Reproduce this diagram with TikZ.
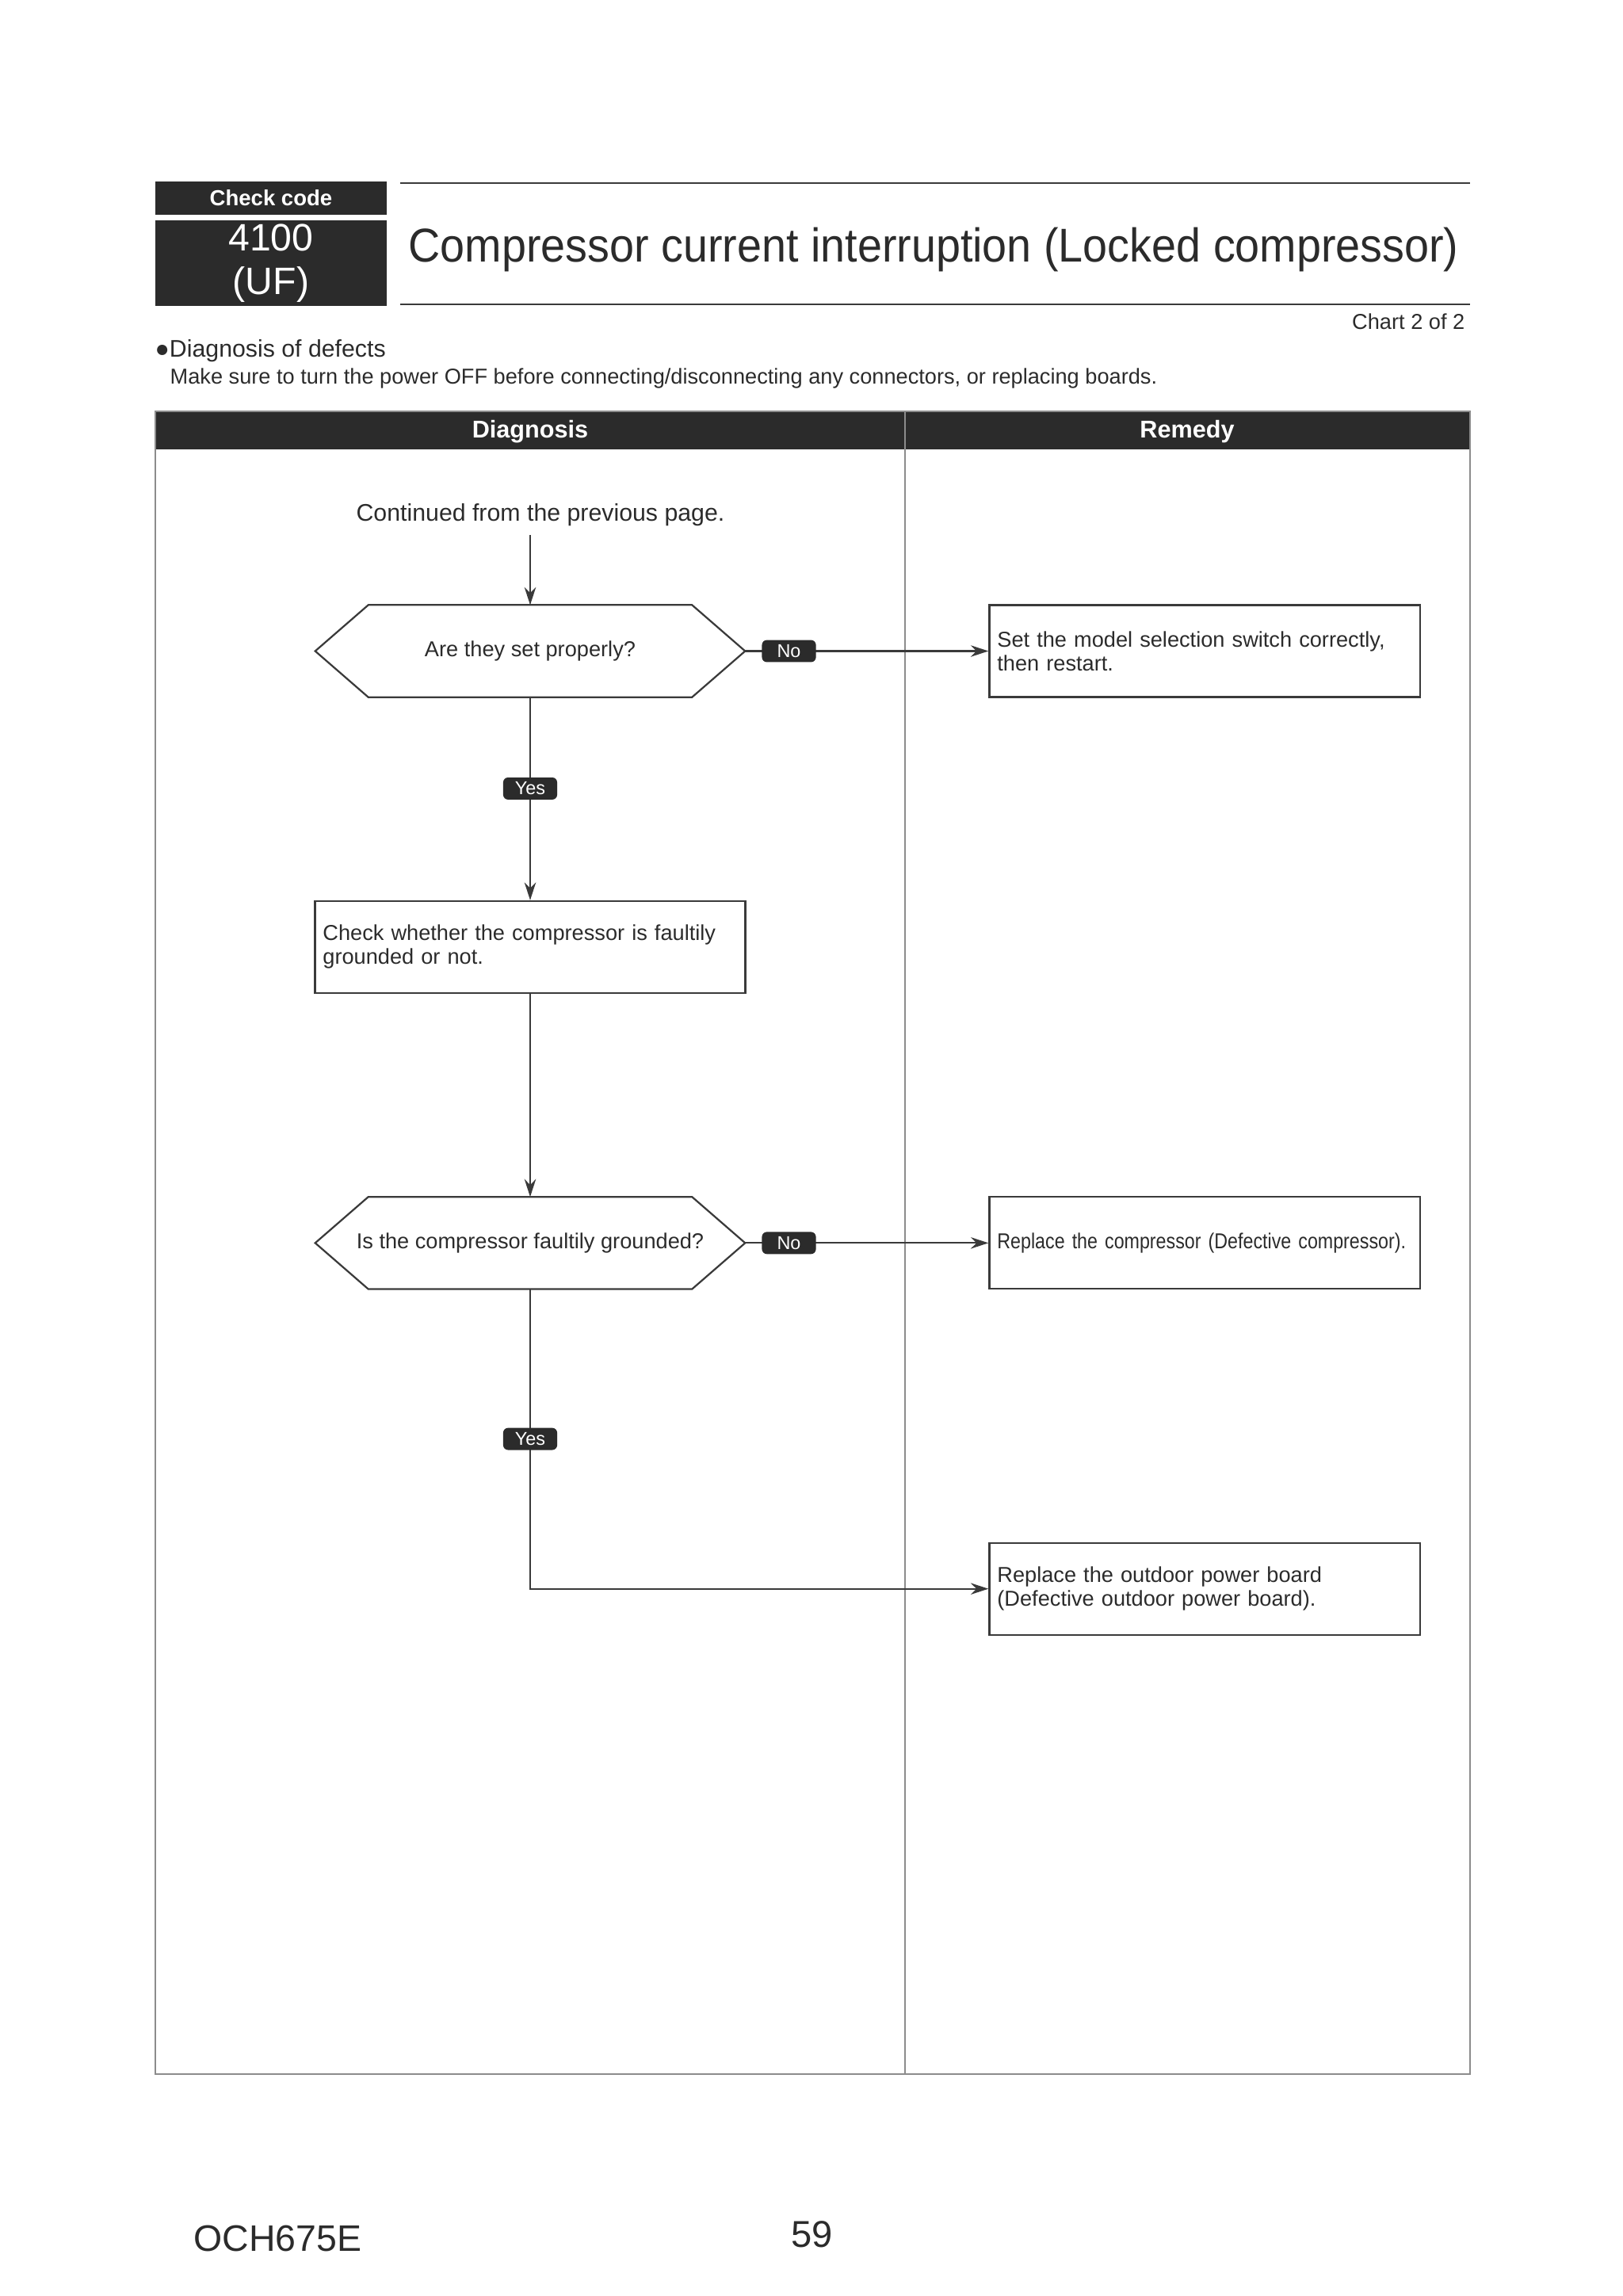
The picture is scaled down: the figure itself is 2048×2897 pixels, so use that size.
\documentclass[tikz,border=0pt]{standalone}
\usepackage{fontspec}
\setmainfont{Liberation Sans}
\newfontfamily\titlefont[FakeStretch=0.93]{Liberation Sans}
\newfontfamily\narrowfont[FakeStretch=0.855]{Liberation Sans}
\usetikzlibrary{arrows.meta,positioning,calc}
\definecolor{ink}{HTML}{2B2B2B}
\definecolor{linec}{HTML}{3A3A3A}
\definecolor{rulec}{HTML}{8C8C8C}

\begin{document}
\begin{tikzpicture}[x=0.2905pt, y=-0.2905pt,
    node distance=74.4pt and 89.2pt,
    txt/.style={font=\fontsize{7.9}{8.7}\selectfont, text=ink},
    decision/.style={txt, minimum width=157.2pt, minimum height=33.4pt, inner sep=0pt, align=center},
    remedy/.style={txt, draw=linec, line width=0.65pt, text width=152pt, inner xsep=2.9pt, minimum height=33.7pt, align=left},
    tag/.style={fill=ink, text=white, rounded corners=1.8pt, minimum width=19.8pt, minimum height=8.1pt, inner sep=0pt, font=\fontsize{6.8}{7}\selectfont},
    arrow/.style={->, >={Stealth[length=6.5pt,width=4.2pt]}, line width=0.65pt, draw=linec},
    band/.style={fill=ink, text=white, inner sep=0pt}
]
\useasboundingbox (0,0) rectangle (2048,2897);

% Check code block
\node[band, minimum width=84.8pt, minimum height=12.2pt, font=\bfseries\fontsize{8}{9}\selectfont] (chk) at (342,250) {Check code};
\node[band, minimum width=84.8pt, minimum height=31.4pt, align=center, font=\fontsize{14}{16}\selectfont] (code) at (342,332) {4100\\(UF)};

% Title
\draw[linec, line width=0.7pt] (505,231) -- (1855,231);
\draw[linec, line width=0.7pt] (505,384) -- (1855,384);
\node[anchor=base west, inner sep=0pt, text=ink, font=\titlefont\fontsize{17.4}{20}\selectfont] (title) at (515,330) {Compressor current interruption (Locked compressor)};
\node[txt, anchor=base east, inner sep=0pt] (chart) at (1849,415) {Chart 2 of 2};
\node[anchor=base west, inner sep=0pt, text=ink, font=\fontsize{8.8}{10}\selectfont] (diag) at (195,450) {●Diagnosis of defects};
\node[txt, anchor=base west, inner sep=0pt] (note) at (214,484) {Make sure to turn the power OFF before connecting/disconnecting any connectors, or replacing boards.};

% Table frame
\fill[ink] (196,519) rectangle (1855,567);
\draw[rulec, line width=0.7pt] (196,519) rectangle (1855,2617);
\draw[rulec, line width=0.7pt] (1142,519) -- (1142,2617);
\node[text=white, font=\bfseries\fontsize{8.9}{10}\selectfont] (hdiag) at (669,545) {Diagnosis};
\node[text=white, font=\bfseries\fontsize{8.9}{10}\selectfont] (hrem) at (1498,545) {Remedy};

% Flow
\node[txt, font=\fontsize{8.8}{10}\selectfont, anchor=base] (start) at (682,657) {Continued from the previous page.};
\node[decision] (q1) at (669,821.5) {Are they set properly?};
\node[remedy, right=of q1] (r1) {Set the model selection switch correctly,\\then restart.};
\node[remedy, below=of q1] (b2) {Check whether the compressor is faultily\\grounded or not.};
\node[decision, below=of b2] (q2) {Is the compressor faultily grounded?};
\node[remedy, right=of q2] (r2) {\mbox{\narrowfont Replace the compressor (Defective compressor).}};
\node[remedy, below=92.4pt of r2] (r3) {Replace the outdoor power board\\(Defective outdoor power board).};

% Hexagon outlines
\foreach \q in {q1,q2}
  \draw[linec, line width=0.65pt] (\q.west) -- ($(\q.north west)+(67,0)$) -- ($(\q.north east)+(-67,0)$) -- (\q.east) -- ($(\q.south east)+(-67,0)$) -- ($(\q.south west)+(67,0)$) -- cycle;

% Connectors
\draw[arrow] (start.south -| q1.north) -- (q1.north);
\draw[arrow] (q1.east) -- node[tag, pos=0.18] (no1) {No} (r1.west);
\draw[arrow] (q1.south) -- node[tag, pos=0.45] (yes1) {Yes} (b2.north);
\draw[arrow] (b2.south) -- (q2.north);
\draw[arrow] (q2.east) -- node[tag, pos=0.18] (no2) {No} (r2.west);
\draw[arrow] (q2.south) |- node[tag, pos=0.25] (yes2) {Yes} (r3.west);

% Footer
\node[anchor=base west, inner sep=0pt, text=ink, font=\fontsize{13.5}{15}\selectfont] (doc) at (244,2840) {OCH675E};
\node[anchor=base west, inner sep=0pt, text=ink, font=\fontsize{13.7}{15}\selectfont] (page) at (998,2835) {59};

\end{tikzpicture}
\end{document}
